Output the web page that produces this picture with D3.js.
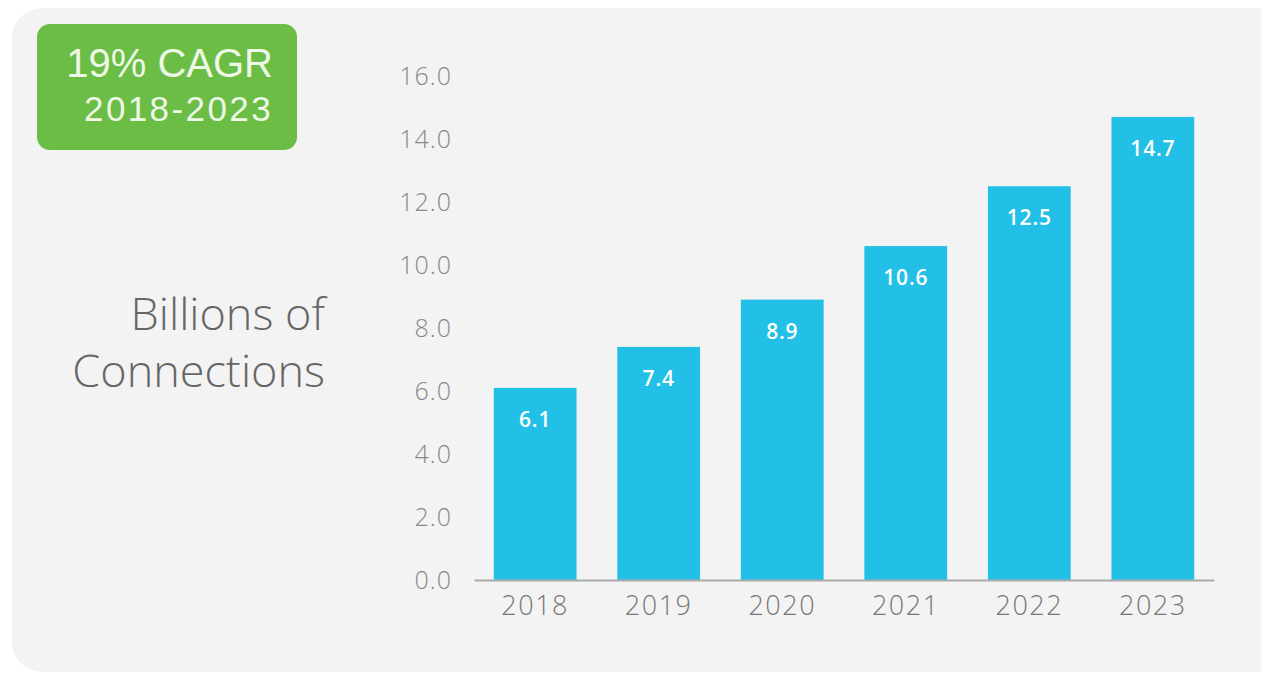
<!DOCTYPE html>
<html>
<head>
<meta charset="utf-8">
<script src="https://cdn.jsdelivr.net/npm/d3@7"></script>
<style>
  body { margin: 0; background: #ffffff; }
</style>
</head>
<body>
<svg id="chart" width="1261" height="677" font-family="'Open Sans', Roboto, sans-serif"></svg>
<script>
// data
const years = ["2018", "2019", "2020", "2021", "2022", "2023"];
const connections = [6.1, 7.4, 8.9, 10.6, 12.5, 14.7];
const yTicks = [0, 2, 4, 6, 8, 10, 12, 14, 16];
const badgeLines = ["19% CAGR", "2018-2023"];
const axisTitle = ["Billions of", "Connections"];

const svg = d3.select("#chart");

// background panel
svg.append("rect")
    .attr("x", 12).attr("y", 8)
    .attr("width", 1290).attr("height", 664)
    .attr("rx", 30)
    .attr("fill", "#f3f3f3");

// green badge
svg.append("rect")
    .attr("x", 37).attr("y", 24)
    .attr("width", 260).attr("height", 126)
    .attr("rx", 13)
    .attr("fill", "#6bbd45");

svg.append("text")
    .attr("x", 273).attr("y", 77)
    .attr("text-anchor", "end")
    .style("font-family", "'Liberation Sans', Arial, sans-serif")
    .attr("font-size", 40)
    .attr("fill", "#eef8e6")
    .text(badgeLines[0]);
svg.append("text")
    .attr("x", 273).attr("y", 121)
    .attr("text-anchor", "end")
    .style("font-family", "'Liberation Sans', Arial, sans-serif")
    .attr("font-size", 35)
    .attr("letter-spacing", 2.4)
    .attr("fill", "#eef8e6")
    .text(badgeLines[1]);

// axis title on the left
svg.append("g").selectAll("text")
    .data(axisTitle)
    .join("text")
    .attr("x", 325)
    .attr("y", (d, i) => 330 + i * 57)
    .attr("text-anchor", "end")
    .attr("font-size", 45)
    .attr("font-weight", 300)
    .attr("fill", "#666")
    .text(d => d);

// scales
const x = d3.scaleBand()
    .domain(years)
    .range([474, 1214])
    .paddingInner(0.33)
    .paddingOuter(0.16);

const y = d3.scaleLinear()
    .domain([0, 16])
    .range([580, 76]);

// y axis (labels only)
const yAxis = svg.append("g")
    .attr("transform", "translate(452,0)")
    .call(d3.axisLeft(y).tickValues(yTicks).tickFormat(d3.format(".1f")).tickSize(0).tickPadding(0));
yAxis.select(".domain").remove();
yAxis.selectAll("text")
    .attr("font-size", 25)
    .style("font-family", "'Open Sans', sans-serif")
    .attr("font-weight", 300)
    .attr("letter-spacing", 1)
    .attr("fill", "#888");

// bars
svg.append("g")
    .selectAll("rect")
    .data(connections)
    .join("rect")
    .attr("x", (d, i) => x(years[i]))
    .attr("y", d => y(d))
    .attr("width", x.bandwidth())
    .attr("height", d => y(0) - y(d))
    .attr("fill", "#22bfe6");

// value labels
svg.append("g")
    .selectAll("text")
    .data(connections)
    .join("text")
    .attr("x", (d, i) => x(years[i]) + x.bandwidth() / 2)
    .attr("y", d => y(d) + 39)
    .attr("text-anchor", "middle")
    .attr("font-size", 21)
    .attr("font-weight", 600)
    .attr("letter-spacing", 0.8)
    .attr("fill", "#ffffff")
    .text(d => d.toFixed(1));

// x axis
const xAxis = svg.append("g")
    .attr("transform", `translate(0,${y(0)})`)
    .call(d3.axisBottom(x).tickSize(0));
xAxis.select(".domain")
    .attr("stroke", "#aaa")
    .attr("stroke-width", 2);
xAxis.selectAll("text")
    .attr("y", 35)
    .attr("dy", 0)
    .attr("font-size", 27)
    .style("font-family", "'Open Sans', sans-serif")
    .attr("font-weight", 300)
    .attr("letter-spacing", 1.5)
    .attr("fill", "#777");
</script>
</body>
</html>
